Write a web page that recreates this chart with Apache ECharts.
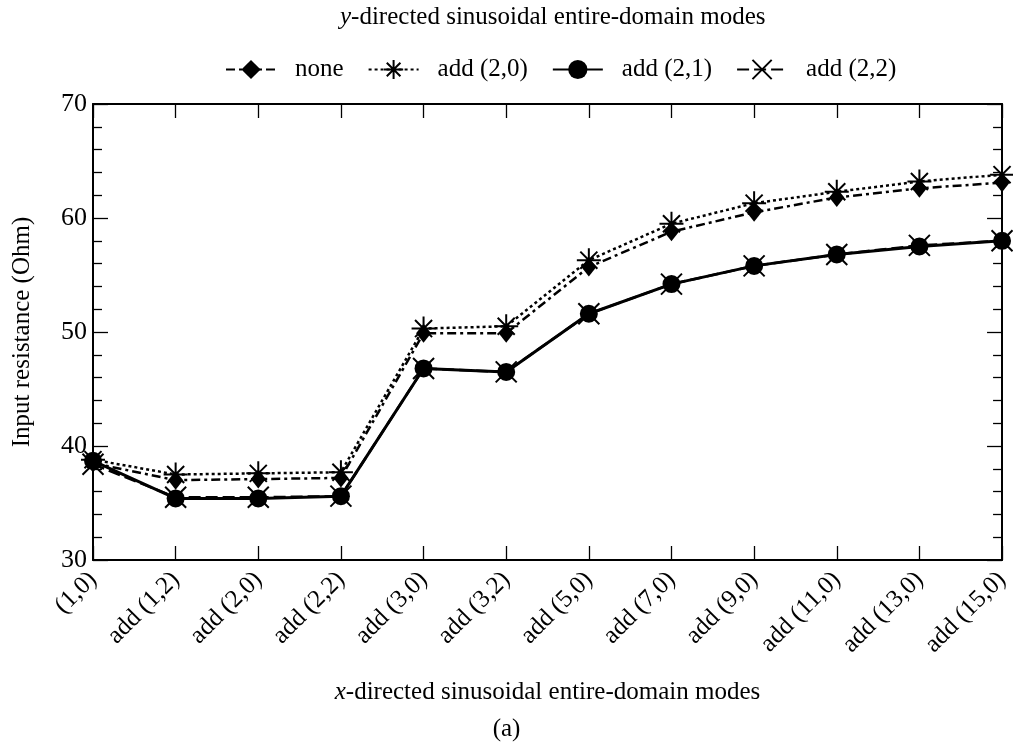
<!DOCTYPE html>
<html>
<head>
<meta charset="utf-8">
<script src="https://cdn.jsdelivr.net/npm/echarts@6/dist/echarts.min.js"></script>
<style>
  html, body { margin: 0; padding: 0; background: #fff; }
  #chart { width: 1013px; height: 749px; }
</style>
</head>
<body>
<div id="chart"></div>
<script>
// x-directed mode sets (categories along the horizontal axis)
const categories = ['(1,0)', 'add (1,2)', 'add (2,0)', 'add (2,2)', 'add (3,0)', 'add (3,2)',
                    'add (5,0)', 'add (7,0)', 'add (9,0)', 'add (11,0)', 'add (13,0)', 'add (15,0)'];

// Input resistance (Ohm) for each y-directed mode choice
const noneValues  = [38.5, 37.0, 37.1, 37.2, 49.9, 49.9, 55.7, 58.8, 60.5, 61.8, 62.6, 63.1];
const add20Values = [38.8, 37.5, 37.6, 37.7, 50.3, 50.5, 56.3, 59.5, 61.3, 62.3, 63.2, 63.8];
const add21Values = [38.7, 35.4, 35.4, 35.6, 46.8, 46.5, 51.6, 54.2, 55.8, 56.8, 57.5, 58.0];
const add22Values = [38.4, 35.5, 35.5, 35.6, 46.8, 46.5, 51.6, 54.2, 55.8, 56.8, 57.6, 58.0];

const seriesNames = ['none', 'add (2,0)', 'add (2,1)', 'add (2,2)'];

const FONT = '"Liberation Serif", "DejaVu Serif", serif';
const FS = 25;
const asteriskPath = 'path://M0,10 L20,10 M10,0 L10,20 M2.9,2.9 L17.1,17.1 M17.1,2.9 L2.9,17.1';
const crossPath = 'path://M0,0 L20,20 M20,0 L0,20';

const chart = echarts.init(document.getElementById('chart'), null, { renderer: 'canvas' });

const baseLine = (name, data, symbol, size, lineType, width, filled) => ({
  name: name,
  type: 'line',
  data: data,
  symbol: symbol,
  symbolSize: size,
  showAllSymbol: true,
  animation: false,
  lineStyle: { color: '#000', width: width, type: lineType },
  itemStyle: filled
    ? { color: '#000', borderColor: '#000', borderWidth: 0 }
    : { color: 'transparent', borderColor: '#000', borderWidth: 2 },
  emphasis: { disabled: true }
});

const option = {
  backgroundColor: '#fff',
  animation: false,
  textStyle: { fontFamily: FONT, color: '#000' },
  title: {
    text: '{i|y}-directed sinusoidal entire-domain modes',
    left: 335,
    top: 0,
    textStyle: {
      fontFamily: FONT, fontSize: FS, fontWeight: 'normal', color: '#000',
      rich: { i: { fontFamily: FONT, fontStyle: 'italic', fontSize: FS, color: '#000' } }
    }
  },
  legend: {
    top: 52,
    left: 220,
    itemWidth: 50,
    itemHeight: 24,
    itemGap: 24,
    textStyle: { fontFamily: FONT, fontSize: FS, color: '#000', padding: [0, 0, 0, 14] },
    data: seriesNames
  },
  grid: { left: 93, right: 9, top: 104, bottom: 189, containLabel: false },
  xAxis: [
    {
      type: 'category',
      data: categories,
      boundaryGap: false,
      position: 'bottom',
      axisLine: { lineStyle: { color: '#000', width: 2 } },
      axisTick: { inside: true, length: 14, alignWithLabel: true, lineStyle: { color: '#000', width: 1.3 } },
      axisLabel: { rotate: 45, fontFamily: FONT, fontSize: FS, color: '#000', margin: 16 },
      name: '{i|x}-directed sinusoidal entire-domain modes',
      nameLocation: 'middle',
      nameGap: 120,
      nameTextStyle: {
        fontFamily: FONT, fontSize: FS, color: '#000',
        rich: { i: { fontFamily: FONT, fontStyle: 'italic', fontSize: FS, color: '#000' } }
      }
    },
    {
      type: 'category',
      data: categories,
      boundaryGap: false,
      position: 'top',
      axisLine: { lineStyle: { color: '#000', width: 2 } },
      axisTick: { inside: true, length: 14, lineStyle: { color: '#000', width: 1.3 } },
      axisLabel: { show: false }
    }
  ],
  yAxis: [
    {
      type: 'value',
      min: 30, max: 70, interval: 10,
      position: 'left',
      axisLine: { show: true, lineStyle: { color: '#000', width: 2 } },
      axisTick: { show: true, inside: true, length: 15, lineStyle: { color: '#000', width: 1.3 } },
      minorTick: { show: true, splitNumber: 5, length: 9, lineStyle: { color: '#000', width: 1.3 } },
      splitLine: { show: false },
      axisLabel: { fontFamily: FONT, fontSize: 26, color: '#000', margin: 6 },
      name: 'Input resistance (Ohm)',
      nameLocation: 'middle',
      nameGap: 58,
      nameTextStyle: { fontFamily: FONT, fontSize: FS, color: '#000' }
    },
    {
      type: 'value',
      min: 30, max: 70, interval: 10,
      position: 'right',
      axisLine: { show: true, lineStyle: { color: '#000', width: 2 } },
      axisTick: { show: true, inside: true, length: 15, lineStyle: { color: '#000', width: 1.3 } },
      minorTick: { show: true, splitNumber: 5, length: 9, lineStyle: { color: '#000', width: 1.3 } },
      splitLine: { show: false },
      axisLabel: { show: false }
    }
  ],
  series: [
    baseLine(seriesNames[0], noneValues, 'diamond', [15, 19], [9, 4, 3, 4], 2.5, true),
    baseLine(seriesNames[1], add20Values, asteriskPath, 24, [3, 3], 2.5, false),
    baseLine(seriesNames[2], add21Values, 'circle', 18, 'solid', 3, true),
    baseLine(seriesNames[3], add22Values, crossPath, 21, [12, 5], 2.5, false)
  ],
  graphic: [
    {
      type: 'text',
      left: 'center',
      top: 717,
      style: { text: '(a)', font: FS + 'px ' + FONT, fill: '#000' }
    }
  ]
};

chart.setOption(option);
</script>
</body>
</html>
